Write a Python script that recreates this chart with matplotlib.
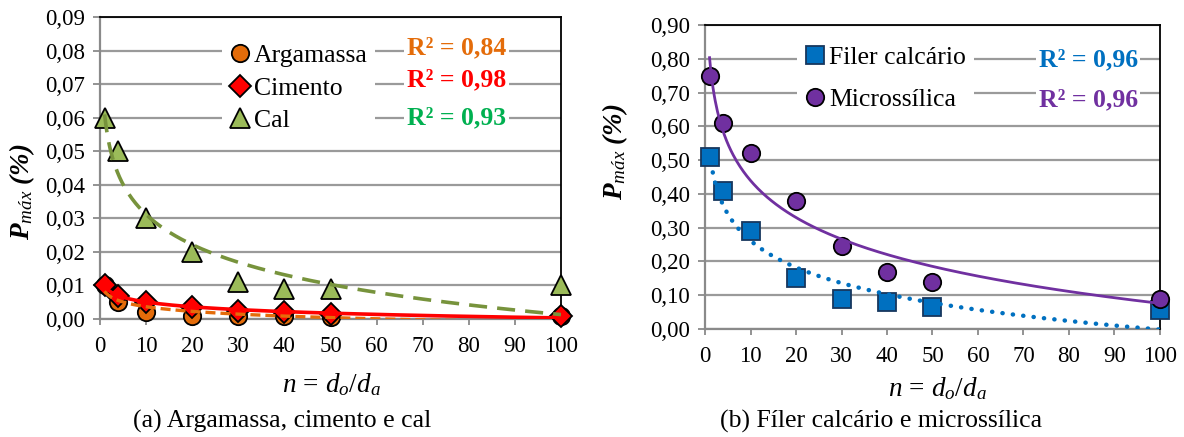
import numpy as np
import matplotlib
matplotlib.use('Agg')
import matplotlib.pyplot as plt
from matplotlib.lines import Line2D
from matplotlib.ticker import FuncFormatter, MultipleLocator

# ---------------- data ----------------
n_values = [1, 4, 10, 20, 30, 40, 50, 100]

argamassa = [0.010, 0.005, 0.002, 0.001, 0.001, 0.001, 0.0005, 0.001]
cimento = [0.010, 0.007, 0.005, 0.0035, 0.0025, 0.002, 0.0015, 0.001]
cal = [0.060, 0.050, 0.030, 0.020, 0.011, 0.009, 0.009, 0.010]

filer = [0.51, 0.41, 0.29, 0.15, 0.09, 0.08, 0.065, 0.055]
microssilica = [0.75, 0.61, 0.52, 0.38, 0.245, 0.17, 0.14, 0.09]

labels_a = ['Argamassa', 'Cimento', 'Cal']
r2_a = ['0,84', '0,98', '0,93']
labels_b = ['Filer calcário', 'Microssílica']
r2_b = ['0,96', '0,96']

x_ticks = list(range(0, 101, 10))
captions = ['(a) Argamassa, cimento e cal', '(b) Fíler calcário e microssílica']

# ---------------- style ----------------
plt.rcParams['font.family'] = ['Liberation Serif', 'DejaVu Serif']
plt.rcParams['mathtext.fontset'] = 'custom'
plt.rcParams['mathtext.rm'] = 'Liberation Serif'
plt.rcParams['mathtext.it'] = 'Liberation Serif:italic'
plt.rcParams['mathtext.bf'] = 'Liberation Serif:bold'
plt.rcParams['mathtext.bfit'] = 'Liberation Serif:bold:italic'

GRID = '#9a9a9a'
TICK_FS = 16.5
LEG_FS = 18.5
R2_FS = 18.5
LAB_FS = 19.5
CAP_FS = 18.5

fig = plt.figure(figsize=(11.84, 4.37), dpi=100)
W, H = 1184, 437


def add_axes_px(x0, x1, ytop, ybot):
    return fig.add_axes([x0 / W, (H - ybot) / H, (x1 - x0) / W, (ybot - ytop) / H])


ax1 = add_axes_px(100, 561, 17, 319)
ax2 = add_axes_px(705, 1160, 25, 329)

comma = FuncFormatter(lambda v, p: f'{v:.2f}'.replace('.', ','))


def style_axes(ax, ymax, ystep):
    ax.set_xlim(0, 100)
    ax.set_ylim(0, ymax)
    ax.set_xticks(x_ticks)
    ax.yaxis.set_major_locator(MultipleLocator(ystep))
    ax.yaxis.set_major_formatter(comma)
    ax.grid(axis='y', color=GRID, lw=1.6, zorder=0)
    ax.set_axisbelow(True)
    for s in ['top', 'right']:
        ax.spines[s].set_color('black')
        ax.spines[s].set_linewidth(1.3)
    for s in ['left', 'bottom']:
        ax.spines[s].set_color('#8a8a8a')
        ax.spines[s].set_linewidth(1.6)
        ax.spines[s].set_zorder(1)
    ax.tick_params(axis='y', direction='out', length=5, width=1.3, color='#8a8a8a',
                   labelsize=TICK_FS, pad=6)
    ax.tick_params(axis='x', direction='out', length=4, width=1.3, color='#8a8a8a',
                   labelsize=TICK_FS, pad=8)


def log_fit(x, y):
    a, b = np.polyfit(np.log(x), y, 1)
    xs = np.linspace(min(x), max(x), 400)
    return xs, a * np.log(xs) + b


style_axes(ax1, 0.09, 0.01)
style_axes(ax2, 0.90, 0.10)

# ---------- panel (a) ----------
mk = dict(ls='none', clip_on=False, zorder=4)
st_arg = dict(marker='o', ms=12.5, mfc='#E46C0A', mec='black', mew=1.3)
st_cim = dict(marker='D', ms=11.5, mfc='#FF0000', mec='black', mew=1.3)
st_cal = dict(marker='^', ms=15, mfc='#9BBB59', mec='black', mew=1.3)
ax1.plot(n_values, argamassa, **st_arg, **mk)
ax1.plot(n_values, cimento, **st_cim, **mk)
ax1.plot(n_values, cal, **st_cal, **mk)

xs, ys = log_fit(n_values, argamassa)
ax1.plot(xs, ys, color='#E46C0A', lw=2.4, ls=(0, (3, 1.5)), zorder=5)
xs, ys = log_fit(n_values, cimento)
ax1.plot(xs, ys, color='#FF0000', lw=2.6, zorder=5)
xs, ys = log_fit(n_values, cal)
ax1.plot(xs, ys, color='#77933C', lw=2.6, ls=(0, (5, 2.8)), zorder=5)

h_a = [Line2D([], [], ls='none', **st_arg),
       Line2D([], [], ls='none', **st_cim),
       Line2D([], [], ls='none', **st_cal)]
leg1 = ax1.legend(h_a, labels_a, loc='upper left', bbox_to_anchor=(26.4, 0.0843),
                  bbox_transform=ax1.transData, fontsize=LEG_FS, frameon=True,
                  facecolor='white', edgecolor='none', fancybox=False, framealpha=1,
                  borderpad=0.3, handlelength=0.8, handletextpad=0.15,
                  labelspacing=0.38, borderaxespad=0)
leg1.set_zorder(3)

r2_colors_a = ['#E46C0A', '#FF0000', '#00B050']
r2_y_a = [0.0809, 0.0714, 0.0600]
for txt, c, yy in zip(r2_a, r2_colors_a, r2_y_a):
    ax1.text(77.3, yy, f'R² = {txt}', color=c, fontsize=R2_FS, fontweight='bold',
             ha='center', va='center', zorder=3,
             bbox=dict(facecolor='white', edgecolor='none', pad=2))

# ---------- panel (b) ----------
st_fil = dict(marker='s', ms=12.5, mfc='#0070C0', mec='#17375E', mew=1.3)
st_mic = dict(marker='o', ms=12.5, mfc='#7030A0', mec='black', mew=1.3)
ax2.plot(n_values, filer, **st_fil, **mk)
ax2.plot(n_values, microssilica, **st_mic, **mk)

xs, ys = log_fit(n_values, filer)
ax2.plot(xs, ys, color='#0070C0', lw=3.2, ls=(0, (0.05, 2.3)), dash_capstyle='round',
         solid_capstyle='round', zorder=5)
xs, ys = log_fit(n_values, microssilica)
ax2.plot(xs, ys, color='#7030A0', lw=2.0, zorder=5)

h_b = [Line2D([], [], ls='none', **st_fil),
       Line2D([], [], ls='none', **st_mic)]
leg2 = ax2.legend(h_b, labels_b, loc='upper left', bbox_to_anchor=(20.2, 0.861),
                  bbox_transform=ax2.transData, fontsize=LEG_FS, frameon=True,
                  facecolor='white', edgecolor='none', fancybox=False, framealpha=1,
                  borderpad=0.3, handlelength=0.8, handletextpad=0.15,
                  labelspacing=0.75, borderaxespad=0)
leg2.set_zorder(3)

r2_colors_b = ['#0070C0', '#7030A0']
r2_y_b = [0.798, 0.679]
for txt, c, yy in zip(r2_b, r2_colors_b, r2_y_b):
    ax2.text(84.2, yy, f'R² = {txt}', color=c, fontsize=R2_FS, fontweight='bold',
             ha='center', va='center', zorder=3,
             bbox=dict(facecolor='white', edgecolor='none', pad=2))

# ---------- labels ----------
ylab = r'$\mathbfit{P}_{\mathit{máx}}\ \mathbfit{(\%)}$'
xlab = r'$n\,=\,d_o/d_a$'
fig.text(22 / W, 1 - 192 / H, ylab, rotation=90, ha='center', va='center', fontsize=LAB_FS)
fig.text(615 / W, 1 - 152 / H, ylab, rotation=90, ha='center', va='center', fontsize=LAB_FS)
fig.text(331 / W, 1 - 385 / H, xlab, ha='center', va='center', fontsize=LAB_FS)
fig.text(937 / W, 1 - 389 / H, xlab, ha='center', va='center', fontsize=LAB_FS)
fig.text(282 / W, 1 - 421 / H, captions[0], ha='center', va='center', fontsize=CAP_FS)
fig.text(881 / W, 1 - 421 / H, captions[1], ha='center', va='center', fontsize=CAP_FS)

fig.savefig('out.png', dpi=100)
